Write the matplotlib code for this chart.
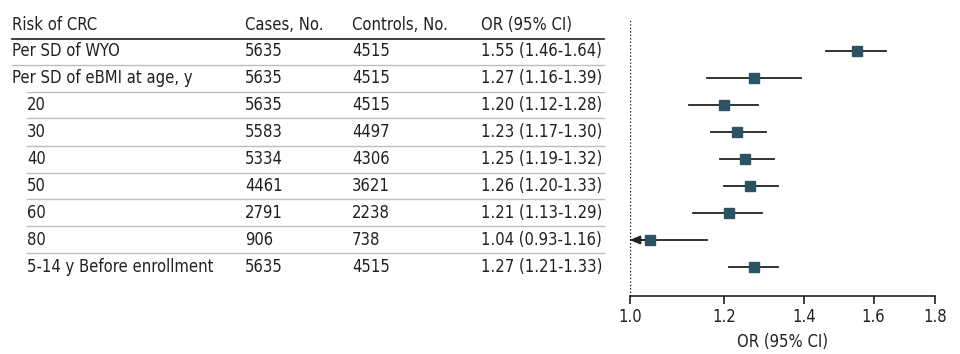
import numpy as np
import matplotlib
matplotlib.use("Agg")
import matplotlib.pyplot as plt

plt.rcParams['font.family'] = ['DejaVu Sans']
plt.rcParams['font.stretch'] = 'condensed'

# table data
labels = ['Per SD of WYO', 'Per SD of eBMI at age, y', '20', '30', '40', '50', '60', '80',
          '5-14 y Before enrollment']
indent = [0, 0, 1, 1, 1, 1, 1, 1, 1]
cases = [5635, 5635, 5635, 5583, 5334, 4461, 2791, 906, 5635]
controls = [4515, 4515, 4515, 4497, 4306, 3621, 2238, 738, 4515]
odds = [1.55, 1.27, 1.20, 1.23, 1.25, 1.26, 1.21, 1.04, 1.27]
ci_lo = [1.46, 1.16, 1.12, 1.17, 1.19, 1.20, 1.13, 0.93, 1.21]
ci_hi = [1.64, 1.39, 1.28, 1.30, 1.32, 1.33, 1.29, 1.16, 1.33]
headers = ['Risk of CRC', 'Cases, No.', 'Controls, No.', 'OR (95% CI)']
xticks = [1.0, 1.2, 1.4, 1.6, 1.8]

W, H = 960, 354
txt_col = '#231f20'
box_col = '#2c5363'
fs = 11.9

fig = plt.figure(figsize=(W / 100, H / 100), dpi=100)

# rows: pixel y = 51 + 27*i ; axes from y=18 to y=296
top_px, bot_px = 18, 296
ylim = ((bot_px - 51) / 27, (top_px - 51) / 27)
ax_b = 1 - bot_px / H
ax_h = (bot_px - top_px) / H

# table axes (x in pixels)
tab = fig.add_axes([0, ax_b, 1, ax_h])
tab.set_xlim(0, W)
tab.set_ylim(*ylim)
tab.axis('off')

col_x = [12, 245, 352, 481]
hdr_y = (25 - 51) / 27
for x, h in zip(col_x, headers):
    tab.text(x, hdr_y, h, fontsize=fs, color=txt_col, va='center', ha='left')
tab.plot([12, 604], [(38.5 - 51) / 27] * 2, color=txt_col, lw=1.2)

n = len(labels)
for i in range(n):
    lx = 27 if indent[i] else 12
    tab.text(lx, i, labels[i], fontsize=fs, color=txt_col, va='center')
    tab.text(col_x[1], i, str(cases[i]), fontsize=fs, color=txt_col, va='center')
    tab.text(col_x[2], i, str(controls[i]), fontsize=fs, color=txt_col, va='center')
    tab.text(col_x[3], i, f"{odds[i]:.2f} ({ci_lo[i]:.2f}-{ci_hi[i]:.2f})",
             fontsize=fs, color=txt_col, va='center')
    if i < n - 1:
        sx = 27 if indent[i + 1] else 12
        tab.plot([sx, 604], [i + 0.5] * 2, color='#bdbdb3', lw=1)

# forest axes
x0, x1 = 629.7 / W, 934.7 / W
ax = fig.add_axes([x0, ax_b, x1 - x0, ax_h])
ax.set_xscale('log')
ax.set_xlim(xticks[0], xticks[-1])
ax.set_ylim(*ylim)
ax.axvline(1.0, color=txt_col, lw=1, ls=(0, (1, 1.5)))
rows = np.arange(n)
for i in rows:
    lo = max(ci_lo[i], xticks[0])
    ax.plot([lo, ci_hi[i]], [i, i], color='#222222', lw=1.3, zorder=2)
    if ci_lo[i] < xticks[0]:
        ax.annotate('', xy=(xticks[0], i), xytext=(odds[i], i),
                    arrowprops=dict(arrowstyle='-|>,head_length=0.6,head_width=0.25',
                                    color='#222222', lw=1.3, shrinkA=0, shrinkB=0))
ax.plot(odds, rows, 's', color=box_col, ms=7.5, zorder=3, ls='none')

for s in ['top', 'right', 'left']:
    ax.spines[s].set_visible(False)
ax.spines['bottom'].set_color(txt_col)
ax.spines['bottom'].set_linewidth(1.2)
ax.set_yticks([])
ax.set_xticks(xticks)
ax.set_xticklabels([f"{t:.1f}" for t in xticks])
ax.minorticks_off()
ax.tick_params(axis='x', length=6, width=1.2, color=txt_col, labelsize=fs,
               labelcolor=txt_col, pad=3)
ax.set_xlabel('OR (95% CI)', fontsize=fs, color=txt_col, labelpad=5)
ax.patch.set_alpha(0)

fig.savefig('out.png', dpi=100)
